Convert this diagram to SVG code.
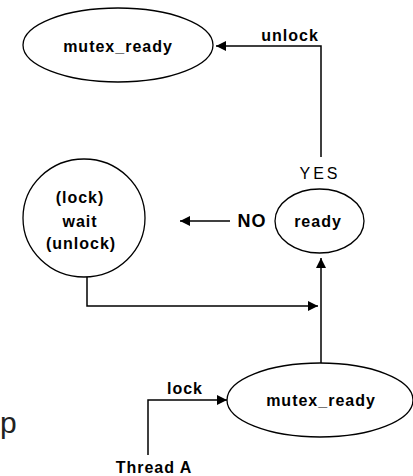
<svg xmlns="http://www.w3.org/2000/svg" width="413" height="476" viewBox="0 0 413 476">
<style>
  .node { fill: #fff; stroke: #000; stroke-width: 1.3; }
  .lbl { font-family: "Liberation Sans", Arial, sans-serif; font-size: 16px; font-weight: bold; fill: #000; letter-spacing: 1px; text-anchor: middle; }
  .plain { font-weight: normal; letter-spacing: 3px; }
  .edge { fill: none; stroke: #000; stroke-width: 1.5; }
</style>
<defs>
  <marker id="arr" markerUnits="userSpaceOnUse" markerWidth="12" markerHeight="10" refX="10" refY="5" orient="auto">
    <path d="M0,0 L10,5 L0,10 Z" fill="#000"/>
  </marker>
</defs>
<rect width="413" height="476" fill="#fff"/>
<text x="0" y="433" font-family="Liberation Sans, Arial, sans-serif" font-size="30" fill="#222">p</text>
<g id="connectors">
  <polyline class="edge" points="321,157 321,46 216,46" marker-end="url(#arr)"/>
  <line class="edge" x1="230" y1="221" x2="180" y2="221" marker-end="url(#arr)"/>
  <polyline class="edge" points="87,277 87,306 318,306" marker-end="url(#arr)"/>
  <line class="edge" x1="321" y1="363" x2="321" y2="258" marker-end="url(#arr)"/>
  <polyline class="edge" points="148,455 148,400 227,400" marker-end="url(#arr)"/>
  <text class="lbl" x="290" y="41">unlock</text>
  <text class="lbl plain" x="320" y="179">YES</text>
  <text class="lbl" x="252" y="227" style="font-size:18px">NO</text>
  <text class="lbl" x="185" y="394">lock</text>
  <text class="lbl" x="154" y="473">Thread A</text>
</g>
<g id="mutex_ready_top">
  <ellipse class="node" cx="118" cy="45" rx="95" ry="37"/>
  <text class="lbl" x="118" y="52">mutex_ready</text>
</g>
<g id="wait">
  <ellipse class="node" cx="84" cy="218" rx="61" ry="59"/>
  <text class="lbl" x="80" y="203">(lock)</text>
  <text class="lbl" x="80" y="227">wait</text>
  <text class="lbl" x="81" y="249">(unlock)</text>
</g>
<g id="ready">
  <ellipse class="node" cx="319.5" cy="221" rx="44.5" ry="32"/>
  <text class="lbl" x="318" y="227">ready</text>
</g>
<g id="mutex_ready_bottom">
  <ellipse class="node" cx="320" cy="400" rx="93" ry="37"/>
  <text class="lbl" x="321" y="406">mutex_ready</text>
</g>
</svg>
